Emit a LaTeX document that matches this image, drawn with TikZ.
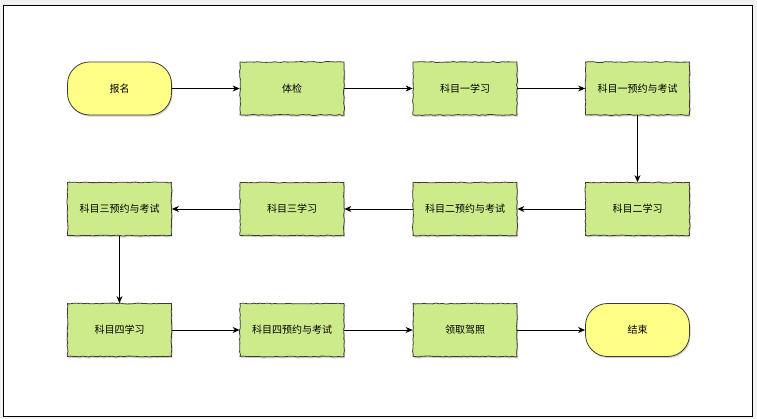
\documentclass[tikz,border=0pt]{standalone}
\usepackage{fontspec}
\newfontfamily\cjk{Noto Sans CJK SC}
\usetikzlibrary{decorations.pathmorphing,shadows,arrows.meta}
\definecolor{boxgreen}{HTML}{CDEB8B}
\definecolor{boxyellow}{HTML}{FFFF88}
\definecolor{boxline}{HTML}{3A3D35}
\definecolor{pagegray}{HTML}{F2F2F2}
\tikzset{
  sketch/.style={decorate,decoration={random steps,segment length=3pt,amplitude=0.45pt}},
  procbox/.style={draw=boxline,line width=0.8pt,fill=boxgreen,minimum width=104pt,minimum height=53pt,inner sep=0pt,
    font=\cjk\fontsize{10}{12}\selectfont,sketch,
    drop shadow={shadow xshift=1pt,shadow yshift=-1.6pt,fill=black!40,opacity=0.45}},
  termbox/.style={procbox,fill=boxyellow,rounded corners=22pt,decorate=false,decoration={random steps,segment length=3pt,amplitude=0.3pt}},
  flow/.style={draw=black,line width=0.8pt,-{Stealth[length=7pt,width=6pt]}}
}
\begin{document}
\begin{tikzpicture}[x=1pt,y=-1pt]
\pgfmathsetseed{7}
\useasboundingbox (0,0) rectangle (757,419);
\fill[pagegray] (0,0) rectangle (757,419);
\draw[fill=white,line width=1.3pt] (3.5,5.5) rectangle (752.5,416.5);
% row 1
\node[termbox] (a1) at (119.5,88.5) {报名};
\node[procbox] (a2) at (292,88.5) {体检};
\node[procbox] (a3) at (465,88.5) {科目一学习};
\node[procbox] (a4) at (637.5,88.5) {科目一预约与考试};
% row 2
\node[procbox] (b4) at (637.5,209) {科目二学习};
\node[procbox] (b3) at (465,209) {科目二预约与考试};
\node[procbox] (b2) at (292,209) {科目三学习};
\node[procbox] (b1) at (119.5,209) {科目三预约与考试};
% row 3
\node[procbox] (c1) at (119.5,330) {科目四学习};
\node[procbox] (c2) at (292,330) {科目四预约与考试};
\node[procbox] (c3) at (465,330) {领取驾照};
\node[termbox] (c4) at (637.5,330) {结束};
% connectors
\draw[flow] (a1) -- (a2);
\draw[flow] (a2) -- (a3);
\draw[flow] (a3) -- (a4);
\draw[flow] (a4) -- (b4);
\draw[flow] (b4) -- (b3);
\draw[flow] (b3) -- (b2);
\draw[flow] (b2) -- (b1);
\draw[flow] (b1) -- (c1);
\draw[flow] (c1) -- (c2);
\draw[flow] (c2) -- (c3);
\draw[flow] (c3) -- (c4);
\end{tikzpicture}
\end{document}
